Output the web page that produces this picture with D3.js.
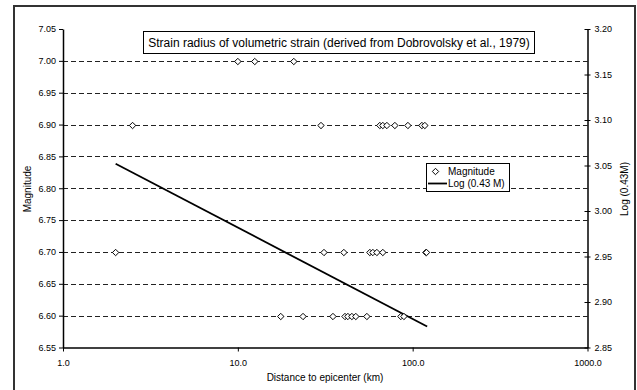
<!DOCTYPE html>
<html>
<head>
<meta charset="utf-8">
<script src="https://cdn.jsdelivr.net/npm/d3@7"></script>
<style>
  body { margin: 0; background: #fff; }
  svg text { font-family: "Liberation Sans", Arial, sans-serif; fill: #000; }
</style>
</head>
<body>
<svg id="chart" width="637" height="390"></svg>
<script>
// distance to epicenter (km) and magnitude
var distances = [10.0, 12.5, 20.9,
                 2.5, 29.9, 64.9, 67.5, 71.2, 79.1, 93.9, 112.9, 117.4,
                 2.0, 31.1, 40.4, 56.9, 59.2, 62.4, 67.5, 119, 120,
                 17.6, 23.6, 35.0, 41.0, 42.6, 44.9, 47.3, 54.7, 85.6, 89.1];
var magnitudes = [7.0, 7.0, 7.0,
                  6.9, 6.9, 6.9, 6.9, 6.9, 6.9, 6.9, 6.9, 6.9,
                  6.7, 6.7, 6.7, 6.7, 6.7, 6.7, 6.7, 6.7, 6.7,
                  6.6, 6.6, 6.6, 6.6, 6.6, 6.6, 6.6, 6.6, 6.6, 6.6];

// Log (0.43 M) line, on the secondary axis
var lineDist = [2.0, 121];
var lineLog = [3.052, 2.873];

var xTicks = [1, 10, 100, 1000];
var yTicks = [6.55, 6.60, 6.65, 6.70, 6.75, 6.80, 6.85, 6.90, 6.95, 7.00, 7.05];
var gridTicks = [6.60, 6.65, 6.70, 6.75, 6.80, 6.85, 6.90, 6.95, 7.00];
var y2Ticks = [2.85, 2.90, 2.95, 3.00, 3.05, 3.10, 3.15, 3.20];

var titleText = "Strain radius of volumetric strain (derived from Dobrovolsky et al., 1979)";

var svg = d3.select('#chart');
// plot area edges (named so they don't clash with window.top)
var pLeft = 63, pRight = 587.5, pTop = 29, pBottom = 347.5;

var x = d3.scaleLog().domain([1, 1000]).range([pLeft, pRight]);
var y = d3.scaleLinear().domain([6.55, 7.05]).range([pBottom, pTop]);
var y2 = d3.scaleLinear().domain([2.85, 3.20]).range([pBottom, pTop]);

// outer chart border
svg.append('rect')
  .attr('x', 14).attr('y', 6)
  .attr('width', 621).attr('height', 400)
  .attr('fill', 'none')
  .attr('stroke', '#333')
  .attr('stroke-width', 2);

// dashed grid lines
svg.append('g').selectAll('line')
  .data(gridTicks)
  .enter()
  .append('line')
  .attr('x1', pLeft).attr('x2', pRight)
  .attr('y1', d => Math.round(y(d)) + 0.5)
  .attr('y2', d => Math.round(y(d)) + 0.5)
  .attr('stroke', '#222')
  .attr('stroke-width', 1)
  .attr('stroke-dasharray', '5,3');

// axes
var fmt2 = d3.format('.2f');
svg.append('g')
  .attr('transform', 'translate(' + pLeft + ',0)')
  .call(d3.axisLeft(y).tickValues(yTicks).tickFormat(fmt2).tickSize(4).tickSizeOuter(0));

var rightAxis = svg.append('g')
  .attr('transform', 'translate(' + pRight + ',0)')
  .call(d3.axisRight(y2).tickValues(y2Ticks).tickFormat(fmt2).tickSize(4).tickSizeOuter(0));

svg.append('g')
  .attr('transform', 'translate(0,' + pBottom + ')')
  .call(d3.axisBottom(x).tickValues(xTicks).tickFormat(d3.format('.1f'))
    .tickSize(4).tickSizeOuter(0).tickPadding(8));

svg.selectAll('.domain').attr('stroke', '#000').attr('stroke-width', 1.5);
svg.selectAll('.tick line').attr('stroke', '#000');
svg.selectAll('.tick text').style('font-size', '9px');

// right ticks cross the axis
rightAxis.selectAll('.tick line').attr('x1', -3).attr('x2', 3);

// axis titles
svg.append('text')
  .attr('transform', 'translate(31,189) rotate(-90)')
  .attr('text-anchor', 'middle')
  .style('font-size', '10px')
  .text('Magnitude');

svg.append('text')
  .attr('transform', 'translate(628,189) rotate(-90)')
  .attr('text-anchor', 'middle')
  .style('font-size', '10px')
  .text('Log (0.43M)');

svg.append('text')
  .attr('x', 325).attr('y', 381)
  .attr('text-anchor', 'middle')
  .style('font-size', '10px')
  .text('Distance to epicenter (km)');

// regression line
var line = d3.line()
  .x(d => x(d[0]))
  .y(d => y2(d[1]));
svg.append('path')
  .datum(lineDist.map((d, i) => [d, lineLog[i]]))
  .attr('d', line)
  .attr('fill', 'none')
  .attr('stroke', '#000')
  .attr('stroke-width', 1.8);

// magnitude markers
var diamond = 'M0,-3.2L3.2,0L0,3.2L-3.2,0Z';
svg.append('g').selectAll('path')
  .data(distances.map((d, i) => [d, magnitudes[i]]))
  .enter()
  .append('path')
  .attr('transform', d => 'translate(' + x(d[0]) + ',' + (Math.round(y(d[1])) + 0.5) + ')')
  .attr('d', diamond)
  .attr('fill', '#fff')
  .attr('stroke', '#000')
  .attr('stroke-width', 1);

// title box
svg.append('rect')
  .attr('x', 143.5).attr('y', 31.5)
  .attr('width', 391).attr('height', 22)
  .attr('fill', '#fff')
  .attr('stroke', '#000')
  .attr('stroke-width', 1);
svg.append('text')
  .attr('x', 339).attr('y', 47)
  .attr('text-anchor', 'middle')
  .style('font-size', '12px')
  .text(titleText);

// legend
var lg = svg.append('g');
lg.append('rect')
  .attr('x', 426.5).attr('y', 163.5)
  .attr('width', 83).attr('height', 28)
  .attr('fill', '#fff')
  .attr('stroke', '#000')
  .attr('stroke-width', 1);
lg.append('path')
  .attr('transform', 'translate(435.5,171.5)')
  .attr('d', diamond)
  .attr('fill', '#fff')
  .attr('stroke', '#000');
lg.append('text')
  .attr('x', 448).attr('y', 175)
  .style('font-size', '10px')
  .text('Magnitude');
lg.append('line')
  .attr('x1', 428).attr('x2', 447)
  .attr('y1', 183.5).attr('y2', 183.5)
  .attr('stroke', '#000')
  .attr('stroke-width', 1.8);
lg.append('text')
  .attr('x', 448).attr('y', 187)
  .style('font-size', '10px')
  .text('Log (0.43 M)');
</script>
</body>
</html>
